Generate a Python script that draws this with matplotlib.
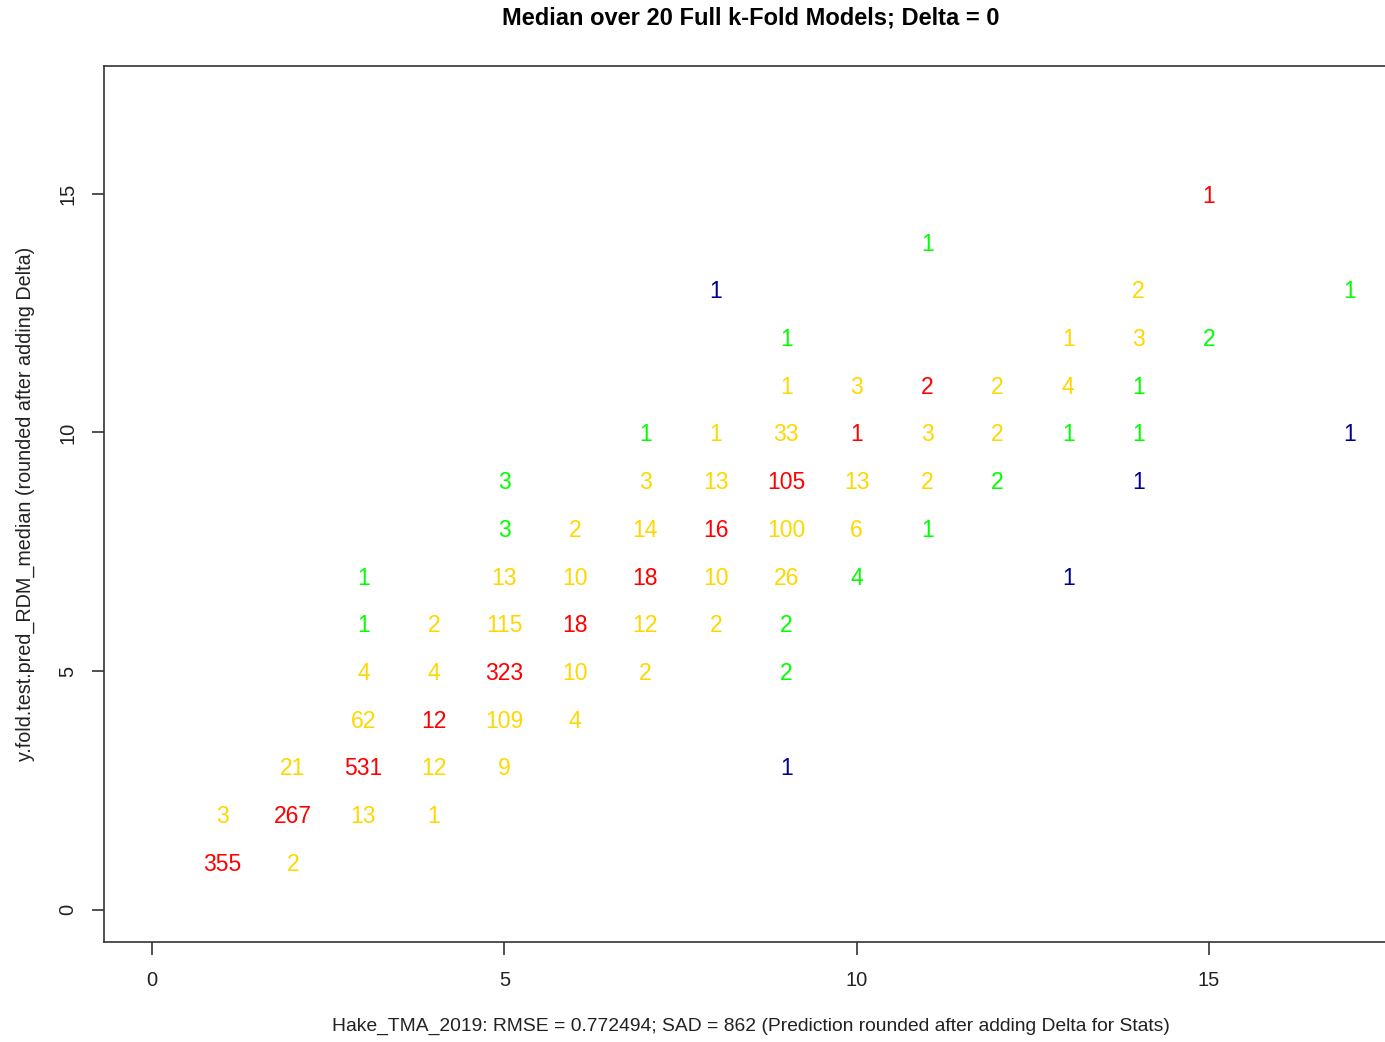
import matplotlib
matplotlib.use("Agg")
import matplotlib.pyplot as plt

plt.rcParams['font.family'] = ['Liberation Sans', 'DejaVu Sans']

# observed age (x), predicted age (y), number of fish, colour code
obs_age = [15,
           11,
           8, 14, 17,
           9, 13, 14, 15,
           9, 10, 11, 12, 13, 14,
           7, 8, 9, 10, 11, 12, 13, 14, 17,
           5, 7, 8, 9, 10, 11, 12, 14,
           5, 6, 7, 8, 9, 10, 11,
           3, 5, 6, 7, 8, 9, 10, 13,
           3, 4, 5, 6, 7, 8, 9,
           3, 4, 5, 6, 7, 9,
           3, 4, 5, 6,
           2, 3, 4, 5, 9,
           1, 2, 3, 4,
           1, 2]
pred_age = [15,
            14,
            13, 13, 13,
            12, 12, 12, 12,
            11, 11, 11, 11, 11, 11,
            10, 10, 10, 10, 10, 10, 10, 10, 10,
            9, 9, 9, 9, 9, 9, 9, 9,
            8, 8, 8, 8, 8, 8, 8,
            7, 7, 7, 7, 7, 7, 7, 7,
            6, 6, 6, 6, 6, 6, 6,
            5, 5, 5, 5, 5, 5,
            4, 4, 4, 4,
            3, 3, 3, 3, 3,
            2, 2, 2, 2,
            1, 1]
counts = [1,
          1,
          1, 2, 1,
          1, 1, 3, 2,
          1, 3, 2, 2, 4, 1,
          1, 1, 33, 1, 3, 2, 1, 1, 1,
          3, 3, 13, 105, 13, 2, 2, 1,
          3, 2, 14, 16, 100, 6, 1,
          1, 13, 10, 18, 10, 26, 4, 1,
          1, 2, 115, 18, 12, 2, 2,
          4, 4, 323, 10, 2, 2,
          62, 12, 109, 4,
          21, 531, 12, 9, 1,
          3, 267, 13, 1,
          355, 2]
codes = ['r',
         'g',
         'b', 'y', 'g',
         'g', 'y', 'y', 'g',
         'y', 'y', 'r', 'y', 'y', 'g',
         'g', 'y', 'y', 'r', 'y', 'y', 'g', 'g', 'b',
         'g', 'y', 'y', 'r', 'y', 'y', 'g', 'b',
         'g', 'y', 'y', 'r', 'y', 'y', 'g',
         'g', 'y', 'y', 'r', 'y', 'y', 'g', 'b',
         'g', 'y', 'y', 'r', 'y', 'y', 'g',
         'y', 'y', 'r', 'y', 'y', 'g',
         'y', 'r', 'y', 'y',
         'y', 'r', 'y', 'y', 'b',
         'y', 'r', 'y', 'y',
         'r', 'y']
palette = {'r': '#FF0000', 'y': '#FFD700', 'g': '#00FF00', 'b': '#00008B'}

x_ticks = [0, 5, 10, 15]
y_ticks = [0, 5, 10, 15]

W, H = 1385, 1042
fig = plt.figure(figsize=(W / 100, H / 100), dpi=100)
# axes box runs past the right edge of the picture (cropped R device)
ax = fig.add_axes([104 / W, 1 - 942 / H, (1398 - 104) / W, (942 - 66) / H])

for xo, yp, n, c in zip(obs_age, pred_age, counts, codes):
    ax.text(xo, yp, str(n), color=palette[c], fontsize=16.5,
            ha='center', va='center_baseline')

ax.set_xlim(-0.68, 17.68)
ax.set_ylim(-0.68, 17.68)
ax.set_xticks(x_ticks)
ax.set_yticks(y_ticks)
ax.set_yticklabels([str(v) for v in y_ticks], rotation=90, va='center')
ax.tick_params(axis='both', direction='out', length=9, width=1.2,
               color='#333333', labelsize=14.5, labelcolor='#222222')
ax.tick_params(axis='x', pad=12)
ax.tick_params(axis='y', pad=10)
for s in ax.spines.values():
    s.set_color('#333333')
    s.set_linewidth(1.2)

fig.text(751 / W, 1 - 18 / H, 'Median over 20 Full k-Fold Models; Delta = 0',
         ha='center', va='center', fontsize=17, fontweight='bold')
fig.text(751 / W, 1 - 1026 / H,
         'Hake_TMA_2019: RMSE = 0.772494; SAD = 862 (Prediction rounded after adding Delta for Stats)',
         ha='center', va='center', fontsize=13.9, color='#222222')
fig.text(25 / W, 1 - 504 / H,
         'y.fold.test.pred_RDM_median (rounded after adding Delta)',
         ha='center', va='center', rotation=90, fontsize=14.2, color='#222222')

fig.savefig('out.png', dpi=100, facecolor='white')
